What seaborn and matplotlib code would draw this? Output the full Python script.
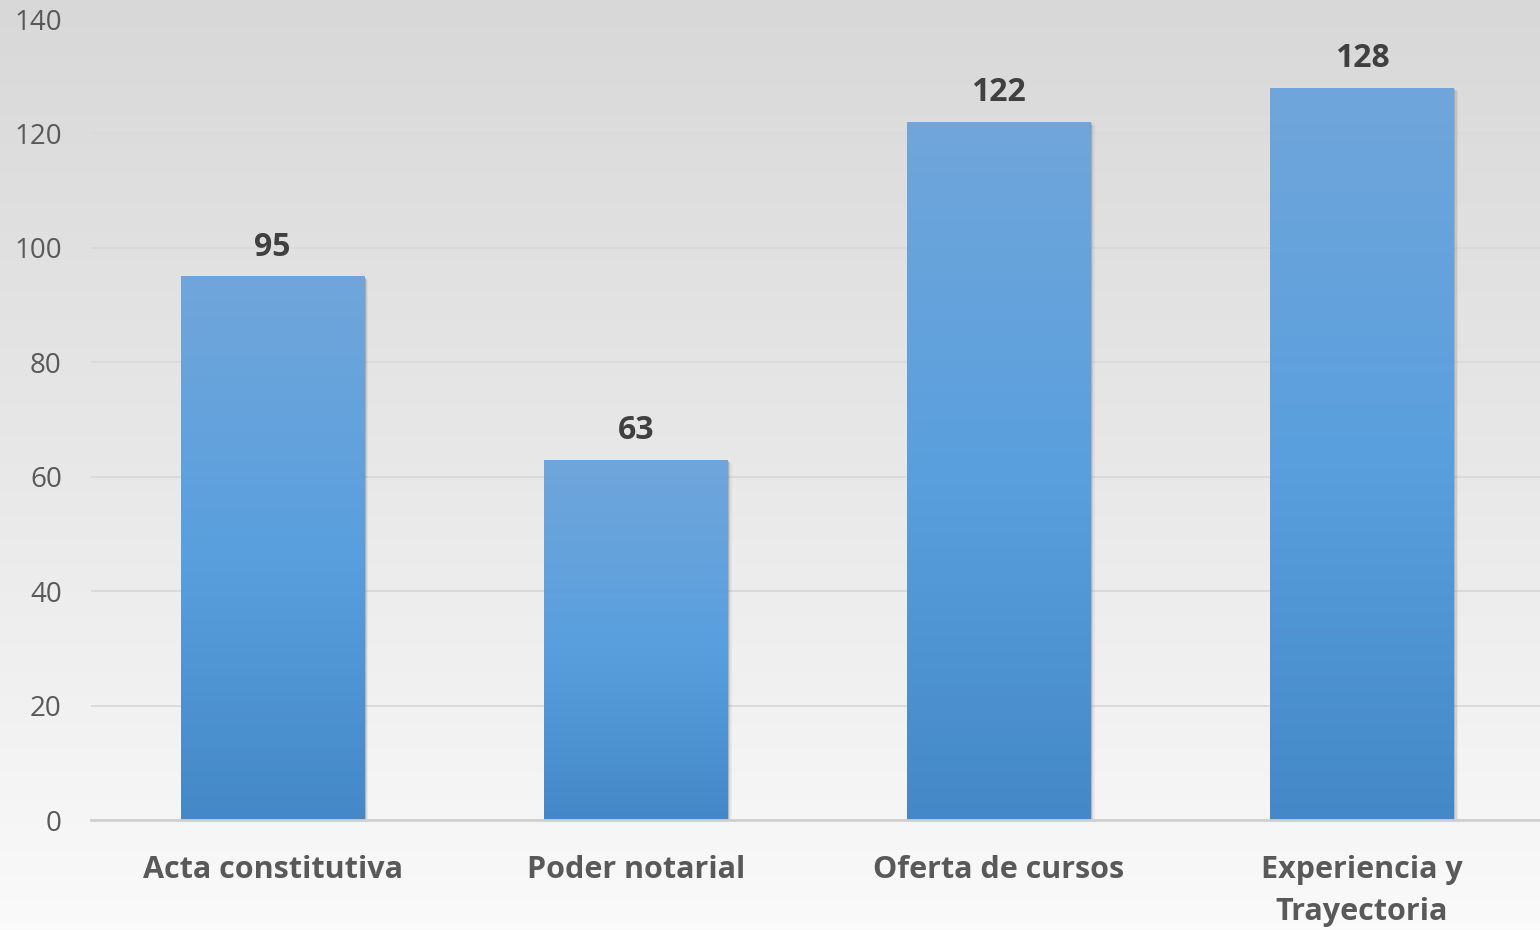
import numpy as np
import pandas as pd
import matplotlib
matplotlib.use("Agg")
import matplotlib.pyplot as plt
import seaborn as sns
from matplotlib.colors import LinearSegmentedColormap
from matplotlib import patheffects as pe

categories = ["Acta constitutiva", "Poder notarial", "Oferta de cursos", "Experiencia y\nTrayectoria"]
values = [95, 63, 122, 128]
yticks = [0, 20, 40, 60, 80, 100, 120, 140]

sns.set_theme(style="white")
plt.rcParams['font.family'] = ['Open Sans', 'DejaVu Sans']

df = pd.DataFrame({"cat": categories, "val": values})

fig = plt.figure(figsize=(15.4, 9.3), dpi=100)

# background gradient
bg = fig.add_axes([0, 0, 1, 1], zorder=-10)
grad = np.linspace(0, 1, 256).reshape(-1, 1)
bg_cmap = LinearSegmentedColormap.from_list("bg", ["#d8d8d8", "#e8e8e8", "#fafafa"])
bg.imshow(grad, aspect="auto", cmap=bg_cmap, extent=[0, 1, 0, 1], origin="upper")
bg.set_axis_off()

ax = fig.add_axes([91/1540, 110/930, 1 - 91/1540, (820-19)/930])
ax.set_facecolor("none")

sns.barplot(data=df, x="cat", y="val", ax=ax, width=0.505, color="#5a9bd5",
            saturation=1, zorder=3, linewidth=0)

ax.set_xlim(-0.5, 3.49)
ax.set_ylim(0, 140)
ax.set_yticks(yticks)
ax.set_yticklabels([str(t) for t in yticks])
ax.yaxis.grid(True, color="#d9d9d9", linewidth=1.3, zorder=0)
ax.set_axisbelow(True)
for s in ["top", "right", "left"]:
    ax.spines[s].set_visible(False)
ax.spines["bottom"].set_color("#cfcfcf")
ax.spines["bottom"].set_linewidth(2)
ax.spines["bottom"].set_zorder(5)
ax.set_xlabel("")
ax.set_ylabel("")
ax.tick_params(axis="y", length=0, pad=21, labelsize=20, labelcolor="#595959")
ax.tick_params(axis="x", length=0, pad=25, labelsize=22, labelcolor="#595959")
for lab in ax.get_xticklabels():
    lab.set_fontweight("bold")
    lab.set_linespacing(1.55)
    lab.set_verticalalignment("top")

bar_cmap = LinearSegmentedColormap.from_list("bar", ["#4488c7", "#5a9fde", "#70a6da"])
gradv = np.linspace(0, 1, 256).reshape(-1, 1)
for p, v in zip(ax.patches, values):
    x0 = p.get_x()
    w = p.get_width()
    h = p.get_height()
    p.set_linewidth(0)
    p.set_path_effects([
        pe.SimplePatchShadow(offset=(3, -2.5), shadow_rgbFace="#808080", alpha=0.10),
        pe.SimplePatchShadow(offset=(2, -1.8), shadow_rgbFace="#808080", alpha=0.18),
        pe.SimplePatchShadow(offset=(1, -1), shadow_rgbFace="#707070", alpha=0.30),
        pe.Normal()])
    im = ax.imshow(gradv, aspect="auto", cmap=bar_cmap, origin="lower",
                   extent=[x0, x0 + w, 0, h], zorder=4)
    im.set_clip_path(p)
    ax.annotate(str(v), (x0 + w / 2, h), xytext=(0, 9), textcoords="offset points",
                ha="center", va="bottom", fontsize=23, fontweight="bold", color="#404040",
                zorder=6)

ax.set_xlim(-0.5, 3.49)
ax.set_ylim(0, 140)

fig.savefig("out.png", dpi=100)
